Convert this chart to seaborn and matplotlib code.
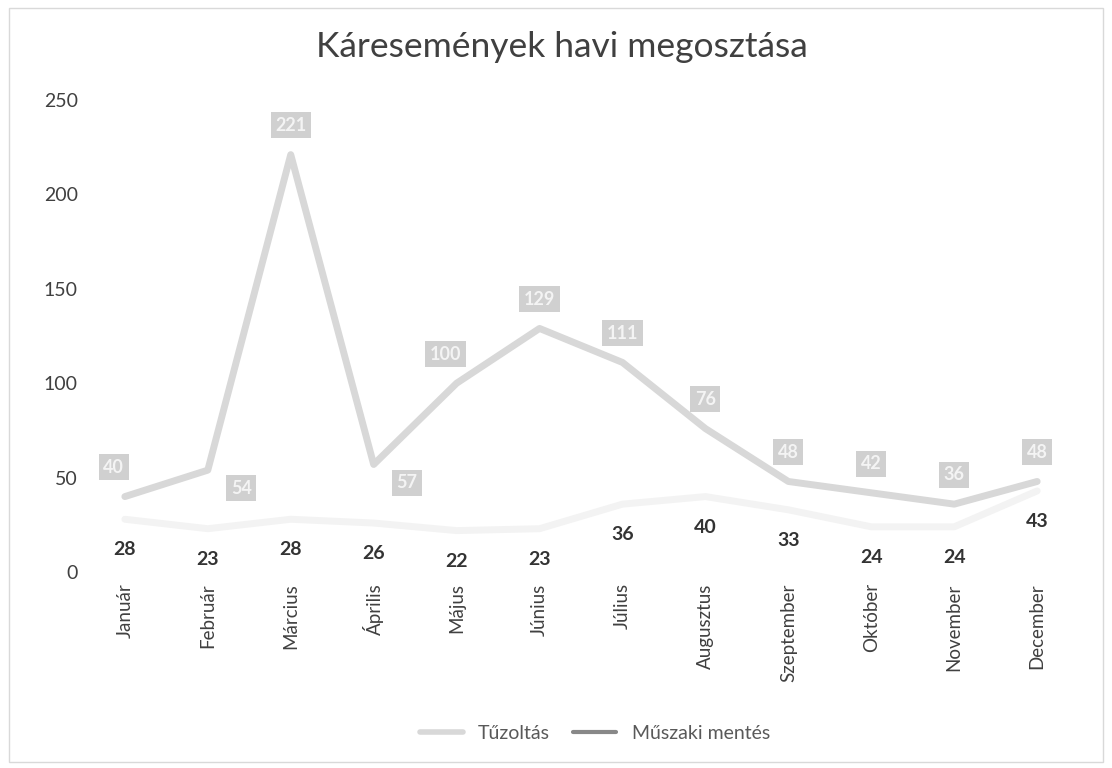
import matplotlib
matplotlib.use('Agg')
import matplotlib.pyplot as plt
import seaborn as sns
import pandas as pd
from matplotlib.patches import Rectangle
from matplotlib.lines import Line2D

# data
honapok = ['Január', 'Február', 'Március', 'Április', 'Május', 'Június',
           'Július', 'Augusztus', 'Szeptember', 'Október', 'November', 'December']
tuzoltas = [40, 54, 221, 57, 100, 129, 111, 76, 48, 42, 36, 48]
muszaki = [28, 23, 28, 26, 22, 23, 36, 40, 33, 24, 24, 43]

# label placement for the Tűzoltás boxes
tuz_pos = ['ul', 'dr', 'u', 'dr', 'ul', 'u', 'u', 'u', 'u', 'u', 'u', 'u']

df = pd.DataFrame({'Hónap': honapok * 2,
                   'Darab': tuzoltas + muszaki,
                   'Típus': ['Tűzoltás'] * 12 + ['Műszaki mentés'] * 12})
df['x'] = list(range(12)) * 2

sns.set_theme(style='white')
plt.rcParams['font.family'] = ['Lato', 'DejaVu Sans']

fig = plt.figure(figsize=(11.12, 7.68), dpi=100)
ax = fig.add_axes([0.075, 0.255, 0.895, 0.615])

sns.lineplot(data=df, x='x', y='Darab', hue='Típus',
             palette={'Tűzoltás': '#d8d8d8', 'Műszaki mentés': '#f3f3f3'},
             linewidth=5, ax=ax, legend=False)

offsets = {'u': (0, 21), 'ul': (-8, 21), 'dr': (24, -13)}
for i, v in enumerate(tuzoltas):
    dx, dy = offsets[tuz_pos[i]]
    ax.annotate(str(v), (i, v), xytext=(dx, dy), textcoords='offset points',
                ha='center', va='center', fontsize=13, fontweight='bold',
                color='#f4f4f4',
                bbox=dict(boxstyle='square,pad=0.25', fc='#d0d0d0', ec='none'))

for i, v in enumerate(muszaki):
    ax.annotate(str(v), (i, v), xytext=(0, -22), textcoords='offset points',
                ha='center', va='center', fontsize=14, fontweight='bold',
                color='#333333')

ax.set_xlim(-0.5, 11.5)
ax.set_ylim(0, 250)
ax.set_yticks([0, 50, 100, 150, 200, 250])
ax.set_xticks(range(12))
ax.set_xticklabels(honapok, rotation=90, fontsize=13.5, color='#404040')
ax.tick_params(axis='y', labelsize=14, labelcolor='#404040', length=0, pad=4)
ax.tick_params(axis='x', length=0, pad=8)
ax.set_xlabel('')
ax.set_ylabel('')
sns.despine(ax=ax, left=True, bottom=True)

fig.suptitle('Káresemények havi megosztása', x=0.505, y=0.96,
             fontsize=25.5, color='#404040')

# legend
handles = [Line2D([], [], color='#d8d8d8', lw=4),
           Line2D([], [], color='#888888', lw=3)]
fig.legend(handles, ['Tűzoltás', 'Műszaki mentés'], loc='center',
           bbox_to_anchor=(0.535, 0.045), ncol=2, frameon=False,
           fontsize=14, labelcolor='#595959', handlelength=2.2,
           columnspacing=1.2)

# outer border
fig.patches.append(Rectangle((0.008, 0.008), 0.984, 0.982, transform=fig.transFigure,
                             fill=False, ec='#d9d9d9', lw=1))

fig.savefig('out.png', dpi=100)
